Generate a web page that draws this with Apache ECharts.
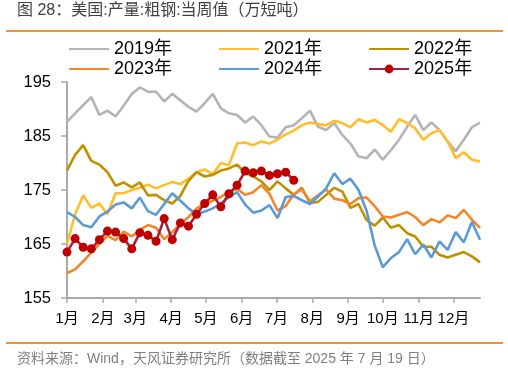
<!DOCTYPE html>
<html>
<head>
<meta charset="utf-8">
<script src="https://cdn.jsdelivr.net/npm/echarts@6/dist/echarts.min.js"></script>
<style>
html,body{margin:0;padding:0;background:#fff;}
#chart{width:508px;height:372px;}
</style>
</head>
<body>
<div id="chart"></div>
<script>
// ---- data ----
var monthLabels = ['1月','2月','3月','4月','5月','6月','7月','8月','9月','10月','11月','12月'];
var monthStartDays = [0,31,59,90,120,151,181,212,243,273,304,334];
var yTicks = [155,165,175,185,195];
var seriesNames = ['2019年','2021年','2022年','2023年','2024年','2025年'];

var y2019 = [187.6,189.2,190.7,192.2,188.9,189.7,188.6,190.6,192.8,194.0,193.2,193.2,191.4,192.8,191.6,190.4,189.5,191.1,192.8,190.1,189.2,188.9,187.5,188.6,187.0,184.9,184.7,186.6,187.0,188.3,189.7,186.7,186.1,187.4,185.2,183.6,181.2,180.9,182.5,180.6,182.4,184.3,186.7,188.9,186.1,187.5,186.1,184.0,182.2,184.3,186.6,187.5];
var y2021 = [165.0,170.5,174.0,171.7,172.5,170.5,174.4,174.4,175.0,175.4,176.0,175.3,175.9,176.5,176.1,177.1,178.3,178.8,177.9,180.0,179.6,183.6,183.8,183.3,184.0,183.6,184.3,185.3,186.0,187.0,187.5,187.2,187.0,187.8,187.4,186.6,188.1,187.5,188.0,187.0,185.8,188.1,187.4,186.4,184.3,185.5,186.1,184.0,180.9,182.0,180.6,180.3];
var y2022 = [178.6,181.5,183.3,180.4,179.7,178.3,175.8,176.4,175.5,176.4,174.0,174.1,173.1,172.5,173.9,176.7,178.3,177.5,177.8,178.6,179.0,179.7,178.2,177.5,176.6,175.0,176.6,175.3,174.1,175.4,172.6,172.8,174.1,175.4,174.7,171.7,172.4,169.4,168.4,169.9,168.0,168.5,167.0,166.4,164.5,164.5,163.0,162.5,163.0,163.5,162.7,161.6];
var y2023 = [159.6,160.3,161.8,163.4,165.0,166.5,165.7,167.3,166.4,167.6,168.5,168.0,165.9,167.2,168.7,170.0,171.6,172.4,173.0,173.7,174.7,175.2,174.1,174.6,175.9,174.3,171.2,172.0,174.2,175.1,172.9,174.0,175.1,173.4,173.1,172.4,173.5,173.6,172.0,170.1,169.9,170.4,170.9,170.0,168.5,169.6,169.0,170.3,169.8,171.3,169.5,168.0];
var y2024 = [170.9,170.0,168.5,168.1,170.1,171.0,172.3,172.7,171.6,173.6,171.1,170.4,172.4,174.4,173.0,171.6,170.5,171.0,171.6,172.5,173.7,174.6,172.3,170.8,171.2,172.2,169.8,173.7,173.9,173.1,172.4,173.8,175.3,178.1,176.1,177.1,175.0,171.1,164.7,160.7,162.4,163.5,165.9,163.1,164.9,162.5,165.5,163.9,167.2,165.3,169.1,165.8];
var y2025 = [163.5,166.0,164.4,164.1,165.8,167.4,167.2,166.0,164.1,167.1,166.6,165.5,169.7,165.8,168.9,168.3,170.5,172.5,174.1,171.9,174.3,175.9,178.5,178.2,178.5,177.7,178.0,178.3,176.8];

var titleText = '图 28：美国:产量:粗钢:当周值（万短吨）';
var sourceText = '资料来源：Wind，天风证券研究所（数据截至 2025 年 7 月 19 日）';

// ---- build ----
var FONT = '"Liberation Sans", Arial, "Noto Sans CJK SC", sans-serif';
function toPairs(arr){ return arr.map(function(v,i){ return [i*7, v]; }); }
var colors = ['#B4B4B4','#FFBF2D','#BF9000','#F4862A','#5B9BD5','#A6233F'];
var dataSets = [y2019,y2021,y2022,y2023,y2024,y2025];

var series = dataSets.map(function(arr, k){
  var isLast = k === 5;
  return {
    name: seriesNames[k],
    type: 'line',
    data: toPairs(arr),
    symbol: isLast ? 'circle' : 'none',
    symbolSize: isLast ? 9 : 0,
    showSymbol: isLast,
    itemStyle: { color: isLast ? '#C00000' : colors[k] },
    lineStyle: { color: colors[k], width: 2.6 },
    z: 2 + k,
    animation: false
  };
});

function legendItems(names){
  return names.map(function(n){
    return n === '2025年' ? { name: n } : { name: n, itemStyle: { opacity: 0 } };
  });
}

var chart = echarts.init(document.getElementById('chart'), null, {renderer: 'canvas'});
chart.setOption({
  backgroundColor: '#ffffff',
  animation: false,
  textStyle: { fontFamily: FONT },
  grid: { left: 67, right: 28, top: 82, bottom: 74, containLabel: false, outerBoundsMode: 'none' },
  legend: [
    { data: legendItems(seriesNames.slice(0,3)), left: 68, top: 40, padding: 0, itemGap: 46, itemWidth: 40, itemHeight: 11,
      textStyle: { fontSize: 18, color: '#000', fontFamily: FONT } },
    { data: legendItems(seriesNames.slice(3,6)), left: 68, top: 60, padding: 0, itemGap: 46, itemWidth: 40, itemHeight: 11,
      textStyle: { fontSize: 18, color: '#000', fontFamily: FONT } }
  ],
  xAxis: {
    type: 'value', min: 0, max: 357,
    splitLine: { show: false },
    axisLine: { show: true, onZero: false, lineStyle: { color: '#AAAAAA', width: 2 } },
    axisTick: { show: true, length: 5, customValues: monthStartDays, lineStyle: { color: '#AAAAAA', width: 1.5 } },
    axisLabel: {
      customValues: monthStartDays, margin: 13, fontSize: 15, color: '#000', fontFamily: FONT,
      formatter: function(v){ var idx = monthStartDays.indexOf(v); return idx >= 0 ? monthLabels[idx] : ''; }
    }
  },
  yAxis: {
    type: 'value', min: yTicks[0], max: yTicks[yTicks.length-1], interval: 10,
    splitLine: { show: false },
    axisLine: { show: true, lineStyle: { color: '#AAAAAA', width: 2 } },
    axisTick: { show: true, length: 6, lineStyle: { color: '#AAAAAA', width: 1.5 } },
    axisLabel: { margin: 16, fontSize: 16.5, color: '#000', fontFamily: FONT }
  },
  graphic: [
    { type: 'text', left: 17, top: 3, style: { text: titleText, font: '16px ' + FONT, fill: '#404040' } },
    { type: 'line', shape: { x1: 6, y1: 31, x2: 503, y2: 31 }, style: { stroke: '#F0913A', lineWidth: 2 } },
    { type: 'line', shape: { x1: 6, y1: 343, x2: 503, y2: 343 }, style: { stroke: '#F0913A', lineWidth: 2 } },
    { type: 'text', left: 17, top: 352, style: { text: sourceText, font: '14px ' + FONT, fill: '#7F7F7F' } }
  ],
  series: series
});
</script>
</body>
</html>
